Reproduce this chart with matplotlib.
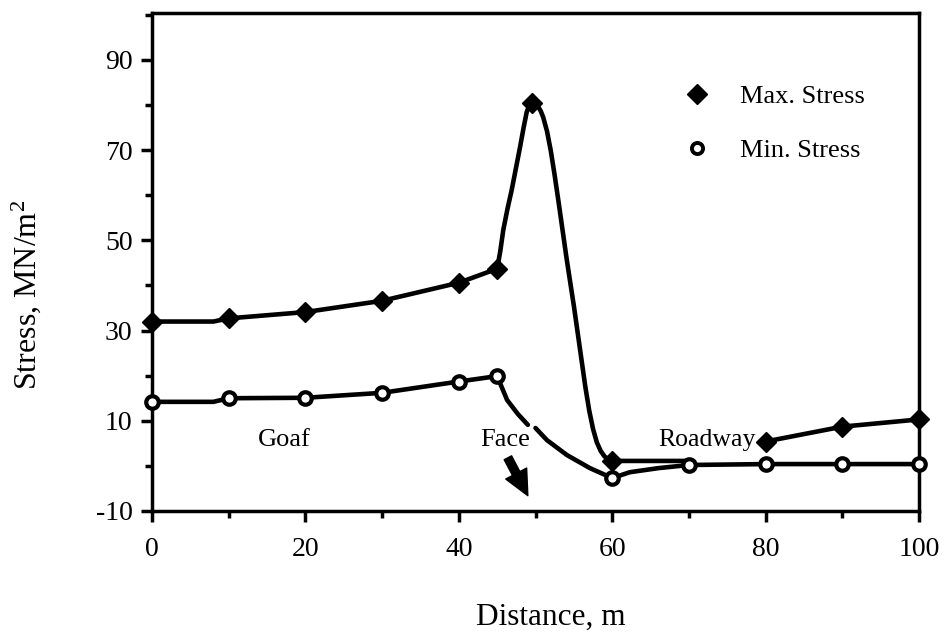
import matplotlib
matplotlib.use("Agg")
import matplotlib.pyplot as plt
from matplotlib.lines import Line2D
from matplotlib.ticker import MultipleLocator

plt.rcParams['font.family'] = ['Liberation Serif', 'DejaVu Serif']
plt.rcParams['mathtext.fontset'] = 'custom'
plt.rcParams['mathtext.rm'] = 'Liberation Serif'
plt.rcParams['mathtext.it'] = 'Liberation Serif:italic'
plt.rcParams['axes.unicode_minus'] = False

# ---- data ----
# Max stress: marked points
max_mark_x = [0, 10, 20, 30, 40, 45, 49.5, 60, 80, 90, 100]
max_mark_y = [32.0, 32.7, 34.1, 36.6, 40.6, 43.7, 80.5, 1.1, 5.4, 8.7, 10.3]
# Max stress: traced curve (goaf + face peak), then roadway part
max_curve1_x = [0, 8, 10, 20, 30, 40, 45, 45.4, 45.8, 46.35, 46.9, 47.45, 48.0,
                48.45, 48.85, 49.2, 49.5, 49.9, 50.3, 50.7, 51.0, 51.5, 52.0,
                52.5, 53.0, 53.5, 54.0, 54.5, 55.0, 55.5, 56.0, 56.5, 57.0,
                57.5, 58.0, 58.5, 59.0, 59.5, 60, 70]
max_curve1_y = [32.0, 32.0, 32.7, 34.1, 36.6, 40.6, 43.7, 47.5, 52.3, 57.0,
                61.2, 66.0, 70.8, 75.0, 78.4, 80.0, 80.6, 80.5, 79.8, 78.6,
                77.3, 74.2, 69.8, 64.4, 58.6, 52.6, 46.6, 41.0, 35.5, 29.5,
                23.5, 17.5, 12.3, 8.2, 5.2, 3.3, 2.1, 1.4, 1.1, 1.1]
max_curve2_x = [80, 90, 100]
max_curve2_y = [5.4, 8.7, 10.3]

# Min stress: marked points
min_mark_x = [0, 10, 20, 30, 40, 45, 60, 70, 80, 90, 100]
min_mark_y = [14.2, 15.0, 15.1, 16.2, 18.7, 19.9, -2.7, 0.2, 0.4, 0.4, 0.4]
# Min stress: traced curve, broken at the "Face" label
min_curve1_x = [0, 8, 10, 20, 30, 40, 45, 46.3, 47.7, 49.0]
min_curve1_y = [14.2, 14.2, 15.0, 15.1, 16.2, 18.7, 19.9, 14.6, 11.5, 9.1]
min_curve2_x = [50.0, 51.5, 54.1, 57.1, 60, 62.3, 66.0, 70, 80, 90, 100]
min_curve2_y = [8.4, 5.7, 2.4, -0.5, -2.7, -1.4, -0.5, 0.2, 0.4, 0.4, 0.4]

x_ticks = [0, 20, 40, 60, 80, 100]
y_ticks = [-10, 10, 30, 50, 70, 90]

# ---- figure ----
fig = plt.figure(figsize=(9.47, 6.34), dpi=100)
ax = fig.add_axes([152/947, 1-511/634, (919-152)/947, (511-13)/634])

lw = 3.3
for xs, ys in [(max_curve1_x, max_curve1_y), (max_curve2_x, max_curve2_y),
               (min_curve1_x, min_curve1_y), (min_curve2_x, min_curve2_y)]:
    ax.plot(xs, ys, color='black', lw=lw, clip_on=False,
            solid_capstyle='round', solid_joinstyle='round')

ax.plot(max_mark_x, max_mark_y, linestyle='none', marker='D', markersize=10,
        color='black', clip_on=False, zorder=5)
ax.plot(min_mark_x, min_mark_y, linestyle='none', marker='o', markersize=9,
        markerfacecolor='white', markeredgecolor='black', markeredgewidth=3.0,
        clip_on=False, zorder=5)

# annotations
ax.text(17.3, 5.7, 'Goaf', fontsize=19, ha='center', va='center')
ax.text(46.0, 5.7, 'Face', fontsize=19, ha='center', va='center')
ax.text(72.3, 5.7, 'Roadway', fontsize=18.5, ha='center', va='center')
ax.annotate('', xy=(49.0, -6.6), xytext=(46.4, 1.8),
            arrowprops=dict(arrowstyle='simple,head_length=0.9,head_width=0.85,tail_width=0.3',
                            color='black', mutation_scale=20,
                            shrinkA=0, shrinkB=0))

# legend
handles = [Line2D([], [], linestyle='none', marker='D', markersize=10, color='black'),
           Line2D([], [], linestyle='none', marker='o', markersize=8,
                  markerfacecolor='white', markeredgecolor='black',
                  markeredgewidth=2.8)]
ax.legend(handles, ['Max. Stress', 'Min. Stress'], loc='upper left',
          bbox_to_anchor=(0.693, 0.856), frameon=False, fontsize=19,
          handlelength=1.0, handletextpad=1.13, labelspacing=1.15,
          borderpad=0, borderaxespad=0, numpoints=1)

# axes
ax.set_xlim(0, 100)
ax.set_ylim(-10, 100.4)
ax.set_xticks(x_ticks)
ax.set_yticks(y_ticks)
ax.xaxis.set_minor_locator(MultipleLocator(10))
ax.yaxis.set_minor_locator(MultipleLocator(10))
ax.tick_params(which='major', direction='out', length=8, width=2.5,
               labelsize=20)
ax.tick_params(which='minor', direction='out', length=5, width=2.5)
ax.tick_params(axis='x', pad=11)
ax.tick_params(axis='y', pad=6)
for s in ax.spines.values():
    s.set_linewidth(2.5)

ax.set_xlabel('Distance, m', fontsize=22.5)
ax.set_ylabel('Stress, MN/m$^{2}$', fontsize=23)
ax.xaxis.set_label_coords(0.52, -0.185)
ax.yaxis.set_label_coords(-0.142, 0.434)

fig.savefig('out.png', dpi=100)
